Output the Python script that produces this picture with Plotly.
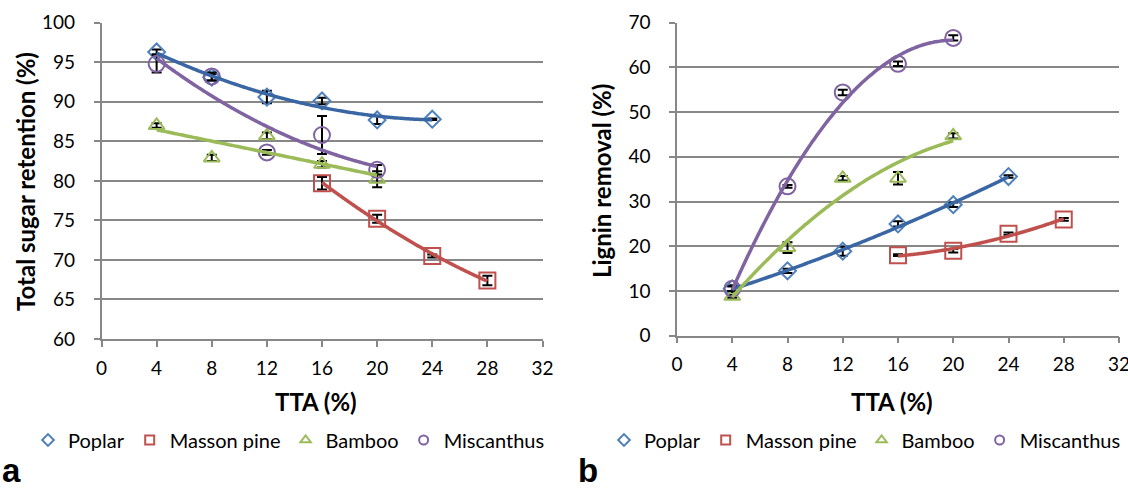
import numpy as np
import plotly.graph_objects as go

# ---------------- data ----------------
series_names = ["Poplar", "Masson pine", "Bamboo", "Miscanthus"]

tta_poplar = [4, 8, 12, 16, 20, 24]
tta_masson = [16, 20, 24, 28]
tta_bamboo = [4, 8, 12, 16, 20]
tta_misc = [4, 8, 12, 16, 20]

sugar_poplar = [96.3, 93.1, 90.6, 90.1, 87.7, 87.8]
sugar_poplar_err = [0.3, 0.4, 0.8, 0.4, 0.5, 0.1]
sugar_masson = [79.7, 75.2, 70.5, 67.4]
sugar_masson_err = [0.8, 0.5, 0.2, 0.6]
sugar_bamboo = [87.0, 82.9, 85.7, 82.1, 80.2]
sugar_bamboo_err = [0.3, 0.4, 0.4, 0.4, 1.0]
sugar_misc = [94.8, 93.2, 83.6, 85.8, 81.4]
sugar_misc_err = [1.1, 0.5, 0.3, 2.4, 0.6]

lignin_poplar = [10.5, 14.5, 18.9, 25.0, 29.3, 35.6]
lignin_poplar_err = [0.8, 0.5, 1.0, 0.6, 0.5, 0.3]
lignin_masson = [18.0, 19.0, 22.8, 26.0]
lignin_masson_err = [0.2, 0.4, 0.3, 0.3]
lignin_bamboo = [8.8, 19.7, 35.2, 35.2, 44.7]
lignin_bamboo_err = [0.3, 1.2, 0.5, 1.4, 0.6]
lignin_misc = [10.5, 33.4, 54.4, 60.8, 66.6]
lignin_misc_err = [0.5, 0.3, 0.6, 0.5, 0.6]

x_ticks = [0, 4, 8, 12, 16, 20, 24, 28, 32]

# ---------------- style ----------------
marker_colors = ["#4F81BD", "#C0504D", "#9BBB59", "#8064A2"]
line_colors = ["#3A67A3", "#C0504D", "#9BBB59", "#8064A2"]
symbols = ["diamond-open", "square-open", "triangle-up-open", "circle-open"]
msizes = [13, 16, 14, 16]
grid = "#878787"
FONT = "Lato"

panel_a = [
    (tta_poplar, sugar_poplar, sugar_poplar_err, 2),
    (tta_masson, sugar_masson, sugar_masson_err, 2),
    (tta_bamboo, sugar_bamboo, sugar_bamboo_err, 1),
    (tta_misc, sugar_misc, sugar_misc_err, 2),
]
panel_b = [
    (tta_poplar, lignin_poplar, lignin_poplar_err, 2),
    (tta_masson, lignin_masson, lignin_masson_err, 2),
    (tta_bamboo, lignin_bamboo, lignin_bamboo_err, 2),
    (tta_misc, lignin_misc, lignin_misc_err, 2),
]

fig = go.Figure()

def add_panel(panel, xa, ya, legend):
    for i, (xs, ys, es, order) in enumerate(panel):
        fig.add_trace(go.Scatter(
            x=xs, y=ys, mode="markers", xaxis=xa, yaxis=ya, showlegend=False,
            marker=dict(symbol=symbols[i], size=msizes[i], color=marker_colors[i],
                        line=dict(width=2, color=marker_colors[i])),
            error_y=dict(type="data", array=es, visible=True, color="black",
                         thickness=2, width=5),
        ))
    for i, (xs, ys, es, order) in enumerate(panel):
        coef = np.polyfit(xs, ys, order)
        xf = np.linspace(min(xs), max(xs), 100)
        fig.add_trace(go.Scatter(
            x=xf, y=np.polyval(coef, xf), mode="lines", xaxis=xa, yaxis=ya,
            showlegend=False, hoverinfo="skip",
            line=dict(color=line_colors[i], width=3.5, shape="spline"),
        ))
    for i, name in enumerate(series_names):
        fig.add_trace(go.Scatter(
            x=[None], y=[None], mode="markers", name=name, xaxis=xa, yaxis=ya,
            legend=legend,
            marker=dict(symbol=symbols[i], size=9, color=marker_colors[i],
                        line=dict(width=2, color=marker_colors[i])),
        ))

add_panel(panel_a, "x", "y", "legend")
add_panel(panel_b, "x2", "y2", "legend2")

W, H = 1128, 490

axis_common = dict(
    showline=True, linecolor=grid, linewidth=1.5, ticks="outside", ticklen=6,
    tickcolor=grid, tickwidth=1.5, zeroline=False, automargin=False,
    tickfont=dict(family=FONT, size=19, color="black"),
    ticklabeloverflow="allow",
)
xcommon = dict(axis_common, range=[0, 32], tickvals=x_ticks, showgrid=False,
               ticklabelstandoff=5)
ycommon = dict(axis_common, showgrid=True, gridcolor=grid, gridwidth=1.5,
               ticklabelstandoff=15)

legend_common = dict(orientation="h", yanchor="middle", y=1 - 440 / H, xanchor="left",
                     font=dict(family=FONT, size=20, color="black"),
                     bgcolor="rgba(0,0,0,0)", itemwidth=30, tracegroupgap=0)

title_font = dict(family=FONT, size=24, color="black", weight="bold")

def ann(text, x, y, angle=0, font=title_font, xanchor="center"):
    return dict(text=text, x=x / W, y=1 - y / H, xref="paper", yref="paper",
                xanchor=xanchor, yanchor="middle", showarrow=False, textangle=angle,
                font=font)

label_font = dict(family="Liberation Sans", size=33, color="black", weight="bold")

fig.update_layout(
    width=W, height=H,
    margin=dict(l=0, r=0, t=0, b=0, autoexpand=False),
    paper_bgcolor="white", plot_bgcolor="white",
    xaxis=dict(xcommon, domain=[101.5 / W, 542.5 / W], anchor="y"),
    yaxis=dict(ycommon, domain=[1 - 339 / H, 1 - 22.7 / H], anchor="x",
               range=[60, 100], dtick=5),
    xaxis2=dict(xcommon, domain=[677 / W, 1119 / W], anchor="y2"),
    yaxis2=dict(ycommon, domain=[1 - 335.7 / H, 1 - 22.7 / H], anchor="x2",
                range=[0, 70], dtick=10),
    legend=dict(legend_common, x=28 / W),
    legend2=dict(legend_common, x=604 / W),
    annotations=[
        ann("Total sugar retention (%)", 25, 182, angle=-90),
        ann("Lignin removal (%)", 601, 181, angle=-90),
        ann("TTA (%)", 316, 401),
        ann("TTA (%)", 892, 401),
        ann("a", 0, 470, font=label_font, xanchor="left"),
        ann("b", 576, 470, font=label_font, xanchor="left"),
    ],
)

fig.write_html(
    "out.html",
    config={"displayModeBar": False},
    post_script="document.body.style.margin='0';document.body.style.overflow='hidden';",
)
